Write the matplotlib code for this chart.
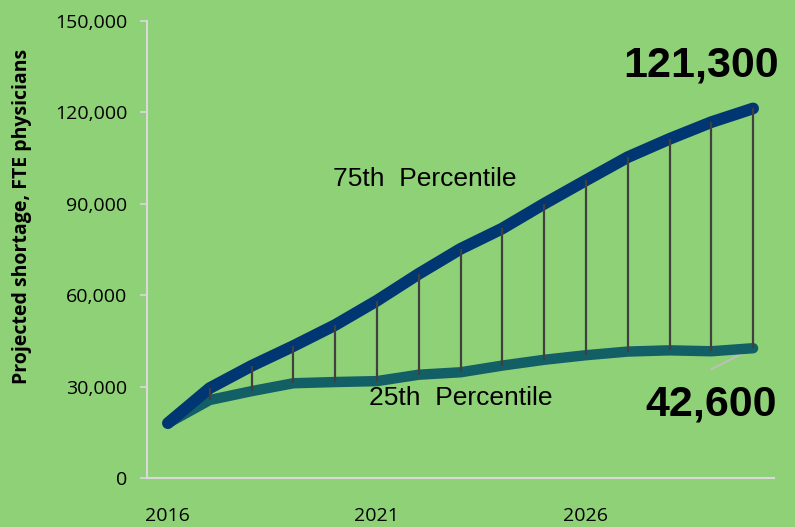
import matplotlib
matplotlib.use("Agg")
import matplotlib.pyplot as plt
import numpy as np

# Projected physician shortage, 2016-2030
years = list(range(2016, 2031))
p75 = [18000, 29500, 36800, 43300, 50200, 58200, 67000, 75200, 81900, 90000,
       97700, 105300, 111300, 116800, 121300]
p25 = [18000, 25600, 28500, 31100, 31500, 31800, 33900, 34700, 36900, 38800,
       40300, 41500, 41900, 41600, 42600]
tick_years = [2016, 2021, 2026]
yticks = [0, 30000, 60000, 90000, 120000, 150000]

BG = "#8fd177"
BLUE = "#003672"
TEAL = "#135f66"

fig = plt.figure(figsize=(7.95, 5.27), dpi=100, facecolor=BG)
ax = fig.add_axes([147 / 795, 1 - 478 / 527, (774 - 147) / 795, (478 - 21) / 527])
ax.set_facecolor(BG)

x = np.arange(len(years))

# high-low lines
ax.vlines(x, p25, p75, colors="#404040", linewidth=1.6, zorder=4)

ax.plot(x, p25, color=TEAL, linewidth=7.5, solid_capstyle="round",
        solid_joinstyle="round", zorder=2)
ax.plot(x, p75, color=BLUE, linewidth=8.5, solid_capstyle="round",
        solid_joinstyle="round", zorder=3)

ax.set_xlim(-0.5, len(years) - 0.5)
ax.set_ylim(0, 150000)
ax.set_yticks(yticks)
ax.set_yticklabels([f"{v:,}" for v in yticks], fontsize=14, family="Open Sans")
ax.set_xticks([years.index(y) for y in tick_years])
ax.set_xticklabels([str(y) for y in tick_years], fontsize=14, family="Open Sans")
ax.tick_params(axis="y", length=5, width=1.2, color="#d9d9d9", pad=9)
ax.tick_params(axis="x", length=0, pad=21)

for s in ["top", "right"]:
    ax.spines[s].set_visible(False)
for s in ["left", "bottom"]:
    ax.spines[s].set_color("#d9d9d9")
    ax.spines[s].set_linewidth(1.5)

fig.text(22 / 795, 1 - 216 / 527, "Projected shortage, FTE physicians",
         rotation=90, ha="center", va="center", fontsize=14,
         fontweight="bold", family="Open Sans")

ax.text(6.15, 98000, "75th  Percentile", ha="center", va="center",
        fontsize=19, family="Liberation Sans")
ax.text(7.0, 26300, "25th  Percentile", ha="center", va="center",
        fontsize=19, family="Liberation Sans")

ax.annotate(f"{p75[-1]:,}", xy=(x[-1], p75[-1]), xytext=(12.75, 135500),
            ha="center", va="center", fontsize=31, fontweight="bold",
            family="Liberation Sans")
ax.annotate(f"{p25[-1]:,}", xy=(x[-1], p25[-1]), xytext=(13.0, 24200),
            ha="center", va="center", fontsize=31, fontweight="bold",
            family="Liberation Sans")
ax.plot([x[-1], 13.0], [p25[-1], 35700], color="#bfbfbf", linewidth=1.3, zorder=1)

fig.savefig("out.png", dpi=100, facecolor=BG)
